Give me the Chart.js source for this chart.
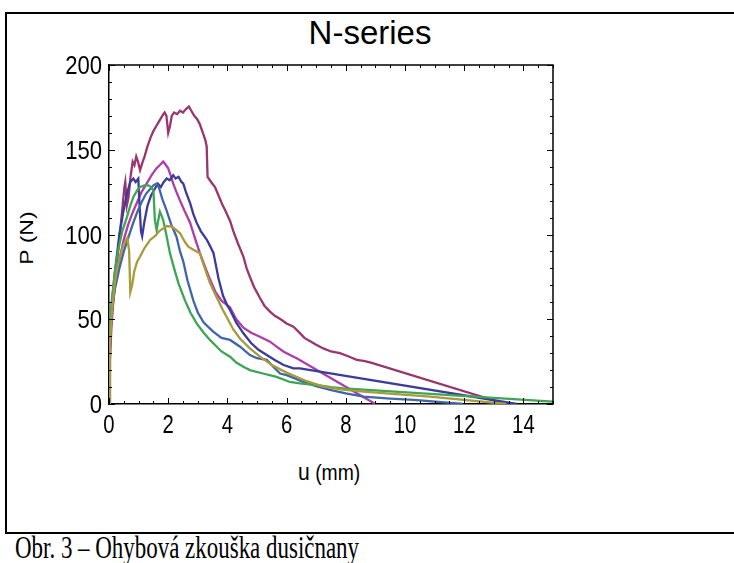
<!DOCTYPE html>
<html>
<head>
<meta charset="utf-8">
<script src="https://cdn.jsdelivr.net/npm/chart.js@4.4.0/dist/chart.umd.min.js"></script>
<style>
  html, body { margin: 0; padding: 0; background: #fff; overflow: hidden; }
  body { width: 734px; height: 563px; position: relative; }
  #frame {
    position: absolute; left: 5px; top: 12px; width: 760px; height: 518px;
    border: 2px solid #000; border-right: none;
  }
  #cap {
    position: absolute; left: 15px; top: 532px; white-space: nowrap;
    font-family: 'Liberation Serif', 'Times New Roman', serif; font-size: 31px; line-height: 31px;
    transform: scaleX(0.74); transform-origin: 0 0;
  }
  #title {
    position: absolute; left: 270px; width: 200px; top: 15px; text-align: center;
    font-family: 'Liberation Sans', Arial, sans-serif; font-size: 33px; line-height: 36px;
  }
  #xlab {
    position: absolute; left: 298px; top: 458px; white-space: nowrap;
    font-family: 'Liberation Sans', sans-serif; font-size: 22px;
    transform: scaleX(0.88); transform-origin: 0 0;
  }
  #xlab .u { font-size: 24px; }
  #ylab {
    position: absolute; left: 27px; top: 238px; white-space: nowrap;
    font-family: 'Liberation Sans', sans-serif; font-size: 23px; line-height: 26px;
    transform: translate(-50%, -50%) scaleX(0.78) rotate(-90deg);
  }
  canvas { position: absolute; left: 0; top: 0; }
</style>
</head>
<body>
<div id="frame"></div>
<div id="title">N-series</div>
<div id="xlab"><span class="u">u</span> (mm)</div>
<div id="ylab">P (N)</div>
<div id="cap">Obr. 3 – Ohybová zkouška dusičnany</div>
<canvas id="c" width="734" height="563"></canvas>
<script>
// ── data: [u (mm), P (N)] ──
const xTicks = [0, 2, 4, 6, 8, 10, 12, 14];
const yTicks = [0, 50, 100, 150, 200];

const sampleN1 = [[0,0],[0.03,25],[0.08,45],[0.15,62],[0.25,80],[0.35,97],[0.45,115],[0.52,128],[0.55,131],[0.6,117],[0.66,122],[0.72,133],[0.8,143],[0.86,141],[0.92,146],[0.98,143],[1.05,138],[1.12,142],[1.2,146],[1.3,152],[1.4,157],[1.5,161],[1.6,164],[1.7,167],[1.8,170],[1.88,172],[1.94,170],[2.0,160],[2.06,164],[2.12,170],[2.2,172],[2.3,171],[2.4,173],[2.5,172],[2.6,174],[2.7,175.5],[2.78,173],[2.88,170],[2.98,168],[3.07,165],[3.15,161],[3.25,156],[3.3,152],[3.33,134],[3.45,131],[3.58,128],[3.7,123],[3.82,118],[3.92,114.5],[4.09,108],[4.2,102],[4.35,95],[4.54,87],[4.65,80],[4.76,75],[4.9,69],[5.1,62.5],[5.25,58],[5.44,54.5],[5.6,52],[5.8,50],[6.0,47.5],[6.23,45.6],[6.45,41.8],[6.6,39],[6.8,37],[7.0,35],[7.24,32.8],[7.5,31],[7.8,30],[8.1,28],[8.37,26],[8.6,25.5],[8.82,24.6],[13.4,0]];

const sampleN2 = [[0,0],[0.03,35],[0.1,55],[0.2,70],[0.35,85],[0.5,97],[0.65,106],[0.8,113],[0.95,119],[1.1,125],[1.27,130],[1.44,135],[1.6,139],[1.72,141],[1.83,143],[1.92,141],[2.0,139],[2.08,135],[2.17,130],[2.28,125],[2.4,120],[2.55,114],[2.74,107],[2.9,98],[3.07,89],[3.2,83],[3.4,74],[3.6,66],[3.8,61],[3.95,59],[4.09,57],[4.3,50],[4.54,45],[4.8,42],[5.1,39.7],[5.44,36.8],[5.65,34],[5.89,31],[6.1,29],[6.34,27],[9.0,0]];

const sampleN3 = [[0,0],[0.03,40],[0.1,60],[0.2,78],[0.35,100],[0.5,115],[0.62,125],[0.72,131],[0.82,133],[0.9,131],[0.99,133],[1.03,118],[1.08,102],[1.12,99],[1.2,108],[1.3,117],[1.42,123],[1.55,127],[1.65,130],[1.75,128],[1.85,131],[1.95,133],[2.05,132],[2.17,135],[2.25,133],[2.35,134],[2.45,131],[2.51,130],[2.6,125],[2.74,118.5],[2.85,112],[2.96,107],[3.1,102],[3.3,97],[3.42,93],[3.53,89],[3.7,74],[3.85,64],[4.0,58],[4.09,55.5],[4.3,48],[4.54,41.7],[4.8,36],[5.05,32],[5.33,28.9],[5.6,26],[5.9,23],[6.23,21],[6.45,21],[13.77,0]];

const sampleN4 = [[0,0],[0.03,40],[0.1,55],[0.2,68],[0.35,80],[0.5,90],[0.65,98],[0.8,106],[0.95,113],[1.1,119],[1.25,124],[1.4,127],[1.5,129],[1.6,130],[1.68,128],[1.8,121],[1.95,114],[2.1,106],[2.28,98.7],[2.4,90],[2.51,84],[2.65,73],[2.85,61],[3.0,54],[3.2,48],[3.52,42.7],[3.8,39],[4.09,37.8],[4.43,33.8],[4.76,28.9],[5.0,27],[5.33,26],[5.55,22],[5.78,18],[6.0,17],[6.3,15],[6.56,13],[7.0,10.5],[7.47,8.3],[8.0,6.2],[8.6,4.3],[9.5,3.2],[10.3,2.4],[11.96,0]];

const sampleN5 = [[0,0],[0.03,45],[0.1,62],[0.2,78],[0.3,90],[0.45,102],[0.6,110],[0.72,117],[0.82,122],[0.95,126],[1.05,128],[1.2,129],[1.33,129],[1.42,128],[1.5,126],[1.55,108.5],[1.61,102.6],[1.66,108],[1.72,113.5],[1.78,111],[1.83,108.5],[1.9,103],[1.95,98.7],[2.06,89],[2.2,80],[2.35,71],[2.57,61],[2.75,54],[2.96,47.6],[3.2,42],[3.41,37.8],[3.8,31],[4.09,27.9],[4.3,24.5],[4.54,22],[4.76,20],[5.2,18],[5.66,16],[6.11,13],[6.45,12.2],[7.0,11.2],[7.5,10],[7.92,9.2],[15,1.4]];

const sampleN6 = [[0,0],[0.03,35],[0.1,55],[0.2,72],[0.3,82],[0.42,90],[0.52,95],[0.62,98],[0.68,90],[0.72,66],[0.78,70],[0.85,78],[0.95,84],[1.05,87],[1.2,92],[1.39,96.8],[1.55,99],[1.7,102],[1.83,103.6],[1.95,105],[2.12,104.6],[2.25,103],[2.4,100.7],[2.55,96],[2.68,92.8],[2.85,91],[3.07,89],[3.2,82],[3.4,72],[3.55,66],[3.69,61],[3.83,56],[3.97,51.5],[4.2,44],[4.43,38.5],[4.75,33],[5.1,27.9],[5.5,23],[6.0,18.5],[6.6,14],[7.24,10.2],[7.9,8.5],[8.6,7.3],[9.7,5.8],[10.84,4.3],[13.43,0]];

const series = [
  { data: sampleN6, color: '#A99A3C' },
  { data: sampleN5, color: '#3DA553' },
  { data: sampleN4, color: '#3E66AA' },
  { data: sampleN3, color: '#3A3B9B' },
  { data: sampleN2, color: '#AE3DAA' },
  { data: sampleN1, color: '#99356F' },
];

// the reference's digits are narrow: draw tick labels squeezed horizontally
const LABEL_FONT = "26px 'Liberation Sans', Arial, sans-serif";
const SQUEEZE_X = 0.78;
const SQUEEZE_Y = 0.85;

// inside ticks on all four sides, top/right frame, narrow tick labels
const frameTicks = {
  id: 'frameTicks',
  afterDraw(chart) {
    const { ctx, chartArea: a, scales: { x, y } } = chart;
    ctx.save();
    ctx.strokeStyle = '#000';
    ctx.lineWidth = 1;
    ctx.beginPath();
    for (let v = 0; v <= 15.001; v += 0.5) {
      const px = Math.round(x.getPixelForValue(v)) + 0.5;
      const len = (Math.abs(v % 2) < 1e-6) ? 6 : 3;
      ctx.moveTo(px, a.bottom); ctx.lineTo(px, a.bottom - len);
      ctx.moveTo(px, a.top); ctx.lineTo(px, a.top + len);
    }
    for (let v = 0; v <= 200.001; v += 10) {
      const py = Math.round(y.getPixelForValue(v)) + 0.5;
      const len = (v % 50 === 0) ? 6 : 3;
      ctx.moveTo(a.left, py); ctx.lineTo(a.left + len, py);
      ctx.moveTo(a.right, py); ctx.lineTo(a.right - len, py);
    }
    ctx.stroke();
    ctx.lineWidth = 1.5;
    ctx.beginPath();
    ctx.moveTo(a.left, a.top); ctx.lineTo(a.right, a.top); ctx.lineTo(a.right, a.bottom);
    ctx.stroke();

    ctx.fillStyle = '#000';
    ctx.font = LABEL_FONT;
    ctx.textBaseline = 'alphabetic';
    ctx.textAlign = 'center';
    xTicks.forEach(v => {
      ctx.save();
      ctx.translate(x.getPixelForValue(v), a.bottom + 29);
      ctx.scale(SQUEEZE_X, 1);
      ctx.fillText(String(v), 0, 0);
      ctx.restore();
    });
    ctx.textAlign = 'right';
    yTicks.forEach(v => {
      ctx.save();
      ctx.translate(a.left - 7, y.getPixelForValue(v) + 9);
      ctx.scale(SQUEEZE_Y, 1);
      ctx.fillText(String(v), 0, 0);
      ctx.restore();
    });
    ctx.restore();
  }
};

new Chart(document.getElementById('c'), {
  type: 'line',
  data: {
    datasets: series.map(s => ({
      data: s.data.map(([u, p]) => ({ x: u, y: p })),
      borderColor: s.color,
      borderWidth: 2.3,
      pointRadius: 0,
      tension: 0,
      fill: false,
    })),
  },
  options: {
    responsive: false,
    animation: false,
    layout: { padding: { top: 65, right: 181, bottom: 0, left: 0 } },
    plugins: { legend: { display: false }, tooltip: { enabled: false } },
    scales: {
      x: {
        type: 'linear', min: 0, max: 15,
        afterBuildTicks: s => { s.ticks = xTicks.map(v => ({ value: v })); },
        afterFit: s => { s.height = 159; },
        ticks: { display: false },
        grid: { display: false, drawTicks: false },
        border: { display: true, color: '#000', width: 1.5 },
      },
      y: {
        type: 'linear', min: 0, max: 200,
        afterBuildTicks: s => { s.ticks = yTicks.map(v => ({ value: v })); },
        afterFit: s => { s.width = 109; },
        ticks: { display: false },
        grid: { display: false, drawTicks: false },
        border: { display: true, color: '#000', width: 1.5 },
      },
    },
  },
  plugins: [frameTicks],
});
</script>
</body>
</html>
